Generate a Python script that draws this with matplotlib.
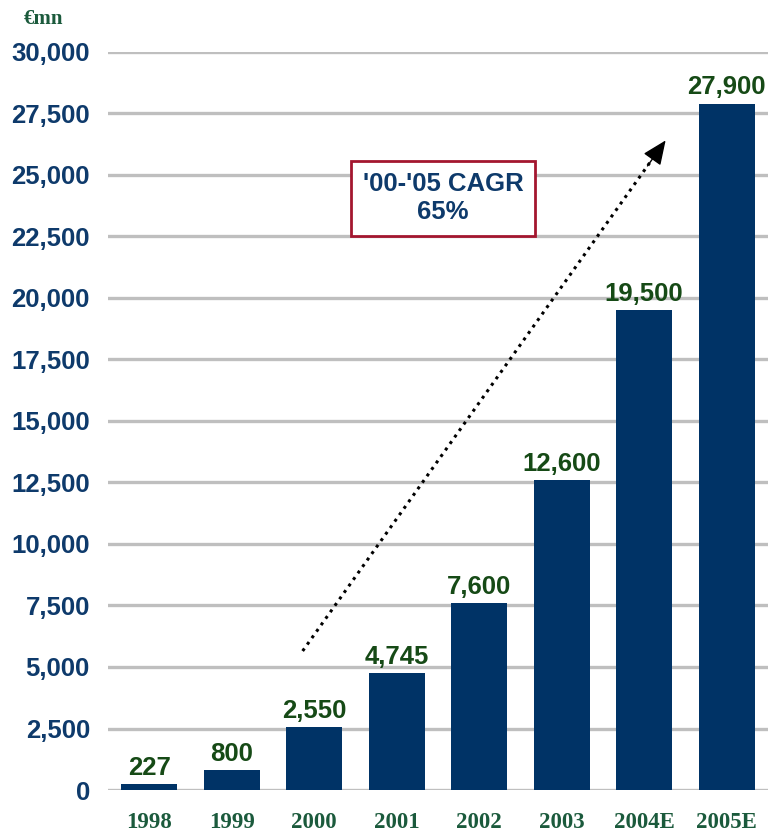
import matplotlib
matplotlib.use("Agg")
import matplotlib.pyplot as plt
from matplotlib.ticker import FuncFormatter

categories = ["1998", "1999", "2000", "2001", "2002", "2003", "2004E", "2005E"]
values = [227, 800, 2550, 4745, 7600, 12600, 19500, 27900]
value_labels = ["227", "800", "2,550", "4,745", "7,600", "12,600", "19,500", "27,900"]
yticks = [0, 2500, 5000, 7500, 10000, 12500, 15000, 17500, 20000, 22500, 25000, 27500, 30000]

bar_color = "#003366"
navy = "#0E3A6B"
green_val = "#164A16"
green_x = "#1B5A3C"
grid_color = "#BFBFBF"

fig = plt.figure(figsize=(7.71, 8.36), dpi=100)
ax = fig.add_axes([0.140, 0.055, 0.856, 0.883])

x = list(range(len(categories)))
ax.bar(x, values, width=0.68, color=bar_color, zorder=3)

for xi, v, lab in zip(x, values, value_labels):
    ax.annotate(lab, (xi, v), xytext=(0, 3), textcoords="offset points",
                ha="center", va="bottom", fontsize=18.5, fontweight="bold",
                color=green_val, family="Liberation Sans", zorder=4)

ax.set_xlim(-0.5, 7.5)
ax.set_ylim(0, 30000)
ax.set_yticks(yticks)
ax.yaxis.set_major_formatter(FuncFormatter(lambda v, p: f"{int(v):,}"))
ax.set_xticks(x)
ax.set_xticklabels(categories)

for lab in ax.get_yticklabels():
    lab.set_fontfamily("Liberation Sans")
    lab.set_fontweight("bold")
    lab.set_fontsize(18.5)
    lab.set_color(navy)
for lab in ax.get_xticklabels():
    lab.set_fontfamily("Liberation Serif")
    lab.set_fontweight("bold")
    lab.set_fontsize(16.5)
    lab.set_color(green_x)

ax.tick_params(axis="y", length=0, pad=13)
ax.tick_params(axis="x", length=0, pad=16)
for s in ax.spines.values():
    s.set_visible(False)

ax.yaxis.grid(True, color=grid_color, linewidth=2.4, zorder=0)
ax.set_axisbelow(True)

# CAGR arrow: dotted shaft + solid head
x0, y0, x1, y1 = 1.86, 5650, 6.26, 26400
ax.annotate("", xy=(x0 + (x1 - x0) * 0.97, y0 + (y1 - y0) * 0.97), xytext=(x0, y0),
            arrowprops=dict(arrowstyle="-", linestyle=(0, (1, 1.6)), linewidth=2.2,
                            color="black", shrinkA=0, shrinkB=0, capstyle="butt"),
            zorder=5)
ax.annotate("", xy=(x1, y1), xytext=(x0 + (x1 - x0) * 0.95, y0 + (y1 - y0) * 0.95),
            arrowprops=dict(arrowstyle="-|>,head_length=1.5,head_width=0.65",
                            linewidth=1, color="black", shrinkA=0, shrinkB=0),
            zorder=5)

ax.text(3.56, 24050, "'00-'05 CAGR\n65%", ha="center", va="center",
        fontsize=18.5, fontweight="bold", color=navy, family="Liberation Sans",
        linespacing=1.2, zorder=6,
        bbox=dict(boxstyle="square,pad=0.45", facecolor="white",
                  edgecolor="#A3162F", linewidth=2))

fig.text(0.056, 0.977, "€mn", ha="center", va="center", fontsize=15,
         fontweight="bold", color="#1B5A3C", family="Liberation Serif")

fig.savefig("out.png", dpi=100)
